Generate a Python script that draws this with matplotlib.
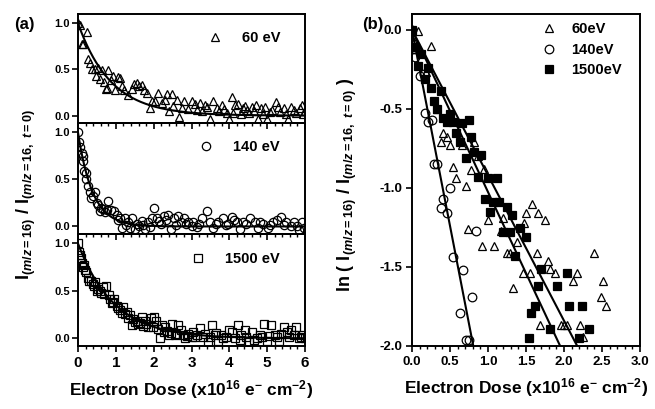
import numpy as np
import matplotlib
matplotlib.use("Agg")
import matplotlib.pyplot as plt
from matplotlib.ticker import MultipleLocator

plt.rcParams["font.family"] = ["Liberation Sans", "DejaVu Sans"]
plt.rcParams["font.weight"] = "bold"
plt.rcParams["mathtext.fontset"] = "custom"
plt.rcParams["mathtext.rm"] = "Liberation Sans:bold"
plt.rcParams["mathtext.bf"] = "Liberation Sans:bold"
plt.rcParams["mathtext.it"] = "Liberation Sans:italic:bold"
plt.rcParams["mathtext.sf"] = "Liberation Sans:bold"

# ---- panel (a): normalised signal vs dose ----
a60_x = [0.00, 0.05, 0.10, 0.14, 0.25, 0.27, 0.32, 0.36, 0.44, 0.47, 0.54, 0.58, 0.63, 0.70, 0.73, 0.76,
         0.80, 0.87, 0.93, 0.98, 1.07, 1.11, 1.17, 1.22, 1.33, 1.42, 1.49, 1.55, 1.60, 1.68, 1.75, 1.82,
         1.90, 1.96, 2.03, 2.12, 2.23, 2.30, 2.34, 2.41, 2.48, 2.52, 2.61, 2.67, 2.74, 2.81, 2.90, 3.00,
         3.09, 3.22, 3.35, 3.49, 3.58, 3.67, 3.80, 3.93, 4.00, 4.06, 4.15, 4.24, 4.35, 4.47, 4.59, 4.70,
         4.77, 4.85, 4.94, 5.00, 5.07, 5.23, 5.33, 5.44, 5.55, 5.64, 5.77, 5.86, 5.91, 6.00,
         3.15, 3.28, 3.42, 3.72, 3.87, 4.10, 4.30, 4.42, 4.53, 4.65, 4.90, 5.13, 5.28, 5.50, 5.70, 5.95]
a60_y = [1.00, 0.98, 0.78, 0.78, 0.91, 0.61, 0.57, 0.51, 0.50, 0.43, 0.52, 0.40, 0.49, 0.36, 0.29, 0.30,
         0.49, 0.39, 0.43, 0.28, 0.42, 0.41, 0.32, 0.28, 0.22, 0.29, 0.34, 0.35, 0.32, 0.33, 0.28, 0.245,
         0.08, 0.16, 0.16, 0.24, 0.14, 0.17, 0.23, 0.05, 0.23, 0.10, 0.165, -0.02, 0.08, 0.16, 0.07, 0.16,
         0.13, 0.14, 0.11, -0.04, 0.16, 0.08, 0.12, 0.03, -0.04, 0.20, 0.11, 0.13, 0.08, 0.06, 0.09, 0.12,
         -0.04, 0.08, 0.09, -0.04, 0.04, 0.15, 0.04, 0.08, -0.04, 0.09, 0.03, 0.08, 0.11, 0.05,
         0.06, 0.05, 0.09, 0.05, 0.07, 0.03, 0.02, 0.10, 0.03, 0.05, 0.02, 0.06, 0.09, 0.02, 0.06, 0.02]

a140_x = [0.00, 0.05, 0.10, 0.14, 0.17, 0.22, 0.27, 0.32, 0.40, 0.46, 0.54, 0.58, 0.66, 0.80, 0.87, 0.96,
          1.02, 1.11, 1.17, 1.24, 1.33, 1.42, 1.50, 1.60, 1.68, 1.77, 1.86, 1.95, 2.02, 2.10, 2.19, 2.28,
          2.37, 2.47, 2.54, 2.63, 2.72, 2.80, 2.91, 3.00, 3.05, 3.14, 3.27, 3.40, 3.49, 3.58, 3.71, 3.84,
          3.97, 4.06, 4.19, 4.28, 4.37, 4.54, 4.68, 4.76, 4.90, 5.02, 5.15, 5.26, 5.37, 5.50, 5.63, 5.72,
          5.85, 5.98,
          0.03, 0.12, 0.20, 0.35, 0.50, 0.62, 0.72, 0.76, 1.06, 1.28, 1.37, 1.55, 1.72, 1.90, 2.15, 2.33,
          2.60, 2.85, 3.20, 3.65, 3.90, 4.12, 4.45, 4.82, 5.08, 5.45, 5.78, 5.92]
a140_y = [1.00, 0.84, 0.78, 0.75, 0.59, 0.57, 0.425, 0.365, 0.32, 0.37, 0.23, 0.16, 0.19, 0.275, 0.17, 0.16,
          0.12, 0.085, -0.015, 0.085, 0.05, 0.085, -0.03, 0.01, 0.055, -0.03, 0.05, 0.085, 0.20, 0.085, 0.03, 0.11,
          0.125, -0.03, 0.085, 0.11, 0.05, 0.085, 0.05, 0.01, 0.05, -0.005, 0.085, 0.16, 0.05, -0.02, 0.05, 0.085,
          0.03, 0.10, 0.05, -0.03, 0.05, 0.085, 0.05, -0.02, 0.03, -0.02, 0.05, 0.07, 0.10, 0.05, 0.0, 0.05,
          -0.04, -0.02,
          0.90, 0.70, 0.50, 0.30, 0.25, 0.20, 0.15, 0.18, 0.07, 0.02, -0.02, 0.03, 0.02, -0.01, 0.06, 0.07,
          0.02, 0.03, 0.03, 0.03, 0.02, 0.07, 0.03, 0.05, 0.02, 0.02, 0.01, 0.05]

a1500_x = [0.00, 0.03, 0.08, 0.11, 0.16, 0.22, 0.27, 0.34, 0.40, 0.46, 0.54, 0.61, 0.67, 0.75, 0.81, 0.89,
           0.96, 1.02, 1.11, 1.20, 1.29, 1.37, 1.43, 1.50, 1.59, 1.68, 1.77, 1.85, 1.92, 2.01, 2.07, 2.16,
           2.22, 2.31, 2.40, 2.49, 2.56, 2.65, 2.73, 2.82, 2.91, 3.00, 3.05, 3.14, 3.22, 3.35, 3.44, 3.53,
           3.62, 3.71, 3.84, 4.00, 4.08, 4.24, 4.32, 4.41, 4.53, 4.61, 4.72, 4.81, 4.91, 5.00, 5.11, 5.20,
           5.31, 5.44, 5.52, 5.63, 5.75, 5.85, 5.96, 6.00,
           0.05, 0.13, 0.19, 0.30, 0.43, 0.50, 0.58, 0.70, 0.85, 0.92, 1.06, 1.15, 1.25, 1.33, 1.46, 1.55,
           1.64, 1.73, 1.81, 1.97, 2.12, 2.27, 2.36, 2.45, 2.60, 2.78, 2.87, 3.10, 3.30, 3.48, 3.66, 3.78,
           3.92, 4.16, 4.28, 4.45, 4.66, 4.86, 5.05, 5.25, 5.37, 5.58, 5.70, 5.90]
a1500_y = [1.00, 0.91, 0.85, 0.79, 0.77, 0.70, 0.64, 0.61, 0.57, 0.59, 0.52, 0.48, 0.54, 0.55, 0.46, 0.37,
           0.41, 0.34, 0.30, 0.33, 0.28, 0.25, 0.14, 0.17, 0.15, 0.23, 0.18, 0.12, 0.21, 0.23, 0.18, 0.0,
           0.14, 0.12, 0.035, 0.15, 0.035, 0.14, 0.09, 0.0, 0.05, 0.02, 0.07, 0.035, 0.11, 0.05, -0.035, 0.14,
           0.035, -0.03, 0.0, 0.09, 0.07, 0.14, 0.035, 0.09, -0.035, 0.07, 0.0, 0.035, 0.15, -0.03, 0.14, 0.035,
           -0.03, 0.12, 0.07, 0.09, 0.12, 0.0, 0.035, 0.0,
           0.88, 0.75, 0.72, 0.60, 0.55, 0.50, 0.50, 0.47, 0.42, 0.38, 0.32, 0.27, 0.26, 0.22, 0.20, 0.18,
           0.16, 0.13, 0.15, 0.12, 0.10, 0.07, 0.08, 0.06, 0.05, 0.04, 0.03, 0.02, 0.02, 0.01, 0.06, 0.04,
           0.02, 0.00, -0.02, 0.01, -0.02, 0.02, 0.03, 0.02, 0.05, 0.02, 0.04, 0.02]

# exponential fit rate constants (per 1e16 e- cm-2)
a_rates = {"60 eV": 1.15, "140 eV": 2.6, "1500 eV": 1.05}

# ---- panel (b): log plot ----
b60_x = [0.00, 0.08, 0.03, 0.25, 0.19, 0.33, 0.41, 0.46, 0.38, 0.50, 0.66, 0.82, 0.87, 0.54, 0.78, 0.95,
         0.58, 0.71, 1.00, 1.20, 1.50, 1.58, 1.66, 1.75, 1.47, 0.74, 1.17, 0.92, 1.08, 1.25, 1.29, 1.38,
         1.64, 1.79, 1.82, 1.88, 1.46, 1.55, 2.17, 2.12, 1.33, 2.39, 2.51, 2.49, 2.55, 1.68, 1.96, 2.00,
         2.04, 2.21, 2.25]
b60_y = [0.00, -0.01, -0.08, -0.10, -0.27, -0.50, -0.65, -0.675, -0.71, -0.73, -0.73, -0.71, -0.80, -0.865, -0.885, -0.88,
         -0.94, -0.99, -1.20, -1.19, -1.16, -1.10, -1.16, -1.20, -1.22, -1.26, -1.27, -1.37, -1.37, -1.41, -1.41, -1.34,
         -1.41, -1.46, -1.51, -1.54, -1.54, -1.54, -1.54, -1.59, -1.63, -1.41, -1.59, -1.69, -1.75, -1.87, -1.87, -1.87,
         -1.87, -1.87, -1.94]

b140_x = [0.00, 0.035, 0.04, 0.11, 0.16, 0.17, 0.21, 0.26, 0.29, 0.33, 0.50, 0.41, 0.38, 0.46, 0.84, 0.54,
          0.67, 0.79, 0.63, 0.71, 0.75]
b140_y = [0.00, -0.12, -0.17, -0.295, -0.28, -0.525, -0.58, -0.57, -0.85, -0.85, -1.00, -1.07, -1.13, -1.16, -1.27, -1.44,
          -1.52, -1.69, -1.79, -1.96, -1.96]

b1500_x = [0.00, 0.035, 0.12, 0.08, 0.17, 0.21, 0.25, 0.38, 0.29, 0.33, 0.41, 0.50, 0.46, 0.54, 0.66, 0.75,
           0.58, 0.63, 0.78, 0.82, 0.91, 0.71, 0.87, 1.00, 1.12, 0.96, 1.07, 1.14, 1.25, 1.03, 1.32, 1.20,
           1.29, 1.42, 1.50, 1.36, 1.70, 2.04, 1.66, 1.91, 1.62, 1.57, 2.07, 2.24, 1.82, 2.33, 1.54, 2.20]
b1500_y = [0.00, -0.11, -0.15, -0.23, -0.31, -0.24, -0.37, -0.39, -0.45, -0.50, -0.56, -0.53, -0.58, -0.58, -0.59, -0.57,
           -0.65, -0.71, -0.675, -0.77, -0.79, -0.81, -0.93, -0.94, -0.94, -1.07, -1.09, -1.09, -1.12, -1.15, -1.17, -1.28,
           -1.28, -1.255, -1.31, -1.43, -1.51, -1.54, -1.62, -1.62, -1.75, -1.79, -1.75, -1.75, -1.89, -1.89, -1.95, -1.95]

# linear fit slopes of ln(I/I0) vs dose
b_slopes = {"60eV": -0.92, "140eV": -2.48, "1500eV": -1.026}

XLABEL = r"Electron Dose (x10$^{16}$ e$^{-}$ cm$^{-2}$)"
I_RATIO = r"$\mathrm{I}_{\mathit{(m/z=16)}}\ \mathrm{/}\ \mathrm{I}_{\mathit{(m/z=16,\ t=0)}}$"


def style_axes(ax):
    ax.patch.set_visible(False)
    for sp in ax.spines.values():
        sp.set_linewidth(1.4)
    ax.tick_params(which="major", direction="out", length=4, width=1.2)
    ax.tick_params(which="minor", direction="out", length=2.5, width=1.0)
    ax.tick_params(axis="y", which="both", right=False)
    ax.tick_params(axis="x", which="both", top=False)


def main():
    fig = plt.figure(figsize=(6.55, 4.09), dpi=100)

    W, H = 655.0, 409.0
    left, right = 78 / W, 305 / W
    bounds = [(14, 123), (123, 234), (234, 346)]
    series_a = [
        ("60 eV", a60_x, a60_y, "^", 6.0),
        ("140 eV", a140_x, a140_y, "o", 6.0),
        ("1500 eV", a1500_x, a1500_y, "s", 5.3),
    ]
    fit_x = np.linspace(0, 6, 300)
    for i, ((top, bot), (label, xs, ys, mk, ms)) in enumerate(zip(bounds, series_a)):
        ax = fig.add_axes([left, 1 - bot / H, right - left, (bot - top) / H])
        ax.plot(xs, ys, linestyle="none", marker=mk, ms=ms, mfc="none", mec="black",
                mew=0.9, label=label)
        ax.plot(fit_x, np.exp(-a_rates[label] * fit_x), color="black", lw=1.5, label="_fit")
        ax.set_xlim(0, 6)
        ax.set_ylim(-0.08, 1.1)
        ax.xaxis.set_major_locator(MultipleLocator(1))
        ax.xaxis.set_minor_locator(MultipleLocator(0.2))
        ax.set_yticks([0.0, 0.5, 1.0])
        ax.set_yticklabels(["0.0", "0.5", "1.0"])
        style_axes(ax)
        ax.tick_params(axis="y", labelsize=8, pad=2)
        ax.tick_params(axis="x", labelsize=11, pad=3)
        if i < 2:
            ax.tick_params(axis="x", labelbottom=False)
        ax.legend(loc="center right", bbox_to_anchor=(0.89, 0.78), frameon=False,
                  handlelength=1.0, handletextpad=1.35, borderpad=0, borderaxespad=0,
                  prop={"weight": "bold", "size": 10.5})
        if i == 2:
            ax.set_xlabel(XLABEL, fontsize=12.5, fontweight="bold", labelpad=6)

    fig.text(26 / W, 1 - 195 / H, I_RATIO, rotation=90, ha="center", va="center", fontsize=13)
    fig.text(24 / W, 1 - 25 / H, "(a)", ha="center", va="center", fontsize=12, fontweight="bold")

    # panel (b)
    bl, br, bt, bb = 412 / W, 640 / W, 14 / H, 346 / H
    axb = fig.add_axes([bl, 1 - bb, br - bl, bb - bt])
    series_b = [
        ("60eV", b60_x, b60_y, "^", 6.2, "none"),
        ("140eV", b140_x, b140_y, "o", 6.2, "none"),
        ("1500eV", b1500_x, b1500_y, "s", 5.5, "black"),
    ]
    for label, xs, ys, mk, ms, fc in series_b:
        axb.plot(xs, ys, linestyle="none", marker=mk, ms=ms, mfc=fc, mec="black",
                 mew=0.9, label=label)
    for label, slope in b_slopes.items():
        x_end = -2.0 / slope
        lx = np.array([0.0, x_end])
        axb.plot(lx, slope * lx, color="black", lw=1.5, label="_fit")
    axb.set_xlim(0, 3.0)
    axb.set_ylim(-2.0, 0.1)
    axb.xaxis.set_major_locator(MultipleLocator(0.5))
    axb.xaxis.set_minor_locator(MultipleLocator(0.1))
    axb.set_yticks([-2.0, -1.5, -1.0, -0.5, 0.0])
    axb.set_yticklabels(["-2.0", "-1.5", "-1.0", "-0.5", "0.0"])
    axb.set_xticklabels([f"{v:.1f}" for v in axb.get_xticks()])
    style_axes(axb)
    axb.tick_params(axis="both", labelsize=9.5, pad=3)
    axb.set_xlabel(XLABEL, fontsize=12.5, fontweight="bold", labelpad=6)
    axb.legend(loc="upper right", bbox_to_anchor=(0.92, 0.975), frameon=False,
               handlelength=1.0, handletextpad=1.05, borderpad=0, borderaxespad=0,
               labelspacing=0.45, prop={"weight": "bold", "size": 10.5})

    fig.text(347 / W, 1 - 185 / H, "ln ( " + I_RATIO + " )", rotation=90, ha="center",
             va="center", fontsize=13, fontweight="bold")
    fig.text(373 / W, 1 - 25 / H, "(b)", ha="center", va="center", fontsize=12, fontweight="bold")

    fig.savefig("out.png", dpi=100)
    plt.close(fig)


if __name__ == "__main__":
    main()
